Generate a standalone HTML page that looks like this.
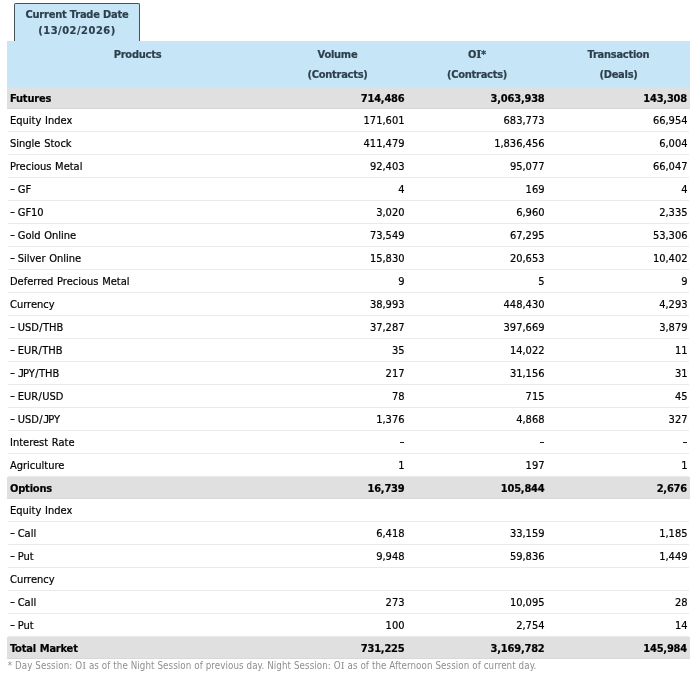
<!DOCTYPE html>
<html><head><meta charset="utf-8"><title>Trade Summary</title>
<style>
html,body{margin:0;padding:0;background:#fff;}
body{width:697px;height:685px;overflow:hidden;position:relative;font-family:"DejaVu Sans Condensed","DejaVu Sans","Liberation Sans",sans-serif;font-size:11px;color:#000;}
.tab{position:absolute;left:14px;top:3px;width:124px;border:1px solid #44525a;border-bottom:none;border-radius:2px 2px 0 0;background:#c6e6f8;color:#2e3f4c;font-weight:bold;text-align:center;line-height:16px;padding-top:3px;height:34px;letter-spacing:-0.2px;z-index:2;}
.tab span{letter-spacing:0.5px;}
.tab{-webkit-text-stroke:0.2px #2e3f4c;}
.tbl{position:absolute;left:7px;top:41px;width:683px;}
.hd{display:flex;height:46px;background:#c6e6f8;color:#2e3f4c;font-weight:bold;text-align:center;line-height:20px;letter-spacing:-0.25px;}
.hd>div{padding-top:4px;-webkit-text-stroke:0.2px #2e3f4c;}
.r{display:flex;height:22px;line-height:22px;border-bottom:1px solid #eaeaea;margin:0 1px 0 1px;}
.r>div{position:relative;top:1px;word-spacing:0.6px;-webkit-text-stroke:0.2px #000;}
.r.g{height:21px;background:#e0e0e0;font-weight:bold;border-bottom:1px solid #d8d8d8;margin:0;letter-spacing:-0.2px;}
.c0{width:261px;box-sizing:border-box;padding-left:3px;}
.c1{width:139px;box-sizing:border-box;text-align:right;padding-right:2.5px;}
.c2{width:140px;box-sizing:border-box;text-align:right;padding-right:2.5px;}
.c3{width:143px;box-sizing:border-box;text-align:right;padding-right:3px;}
.hd .c0,.hd .c1,.hd .c2,.hd .c3{text-align:center;padding-left:0;padding-right:0;}
.r:not(.g) .c0{width:260px;padding-left:2px;}
.r:not(.g) .c3{width:142px;padding-right:1.5px;}
.sj{font-family:"DejaVu Sans Mono",monospace;letter-spacing:-1.3px;}
.sl{margin:0 0.4px;}
.si{font-family:"DejaVu Serif",serif;}
.note{position:absolute;left:7.7px;top:660px;font-size:9.7px;color:#8e8e8e;white-space:nowrap;letter-spacing:0.094px;}

.wrap{position:absolute;left:0;top:0;width:697px;height:685px;will-change:transform;}
.d{display:inline-block;position:relative;top:-1px;transform:scaleX(1.4);transform-origin:0 0;margin-right:0.4px;}
.dn{transform-origin:100% 0;margin-right:0;margin-left:1.2px;}

</style></head><body>
<div class="wrap">
<div class="tab">Current Trade Date<br><span>(13/02/2026)</span></div>
<div class="tbl">
<div class="hd"><div class="c0">Products</div><div class="c1">Volume<br>(Contracts)</div><div class="c2">O<span class="si">I</span>*<br>(Contracts)</div><div class="c3">Transaction<br>(Deals)</div></div>
<div class="r g"><div class="c0">Futures</div><div class="c1">714,486</div><div class="c2">3,063,938</div><div class="c3">143,308</div></div>
<div class="r"><div class="c0">Equity Index</div><div class="c1">171,601</div><div class="c2">683,773</div><div class="c3">66,954</div></div>
<div class="r"><div class="c0">Single Stock</div><div class="c1">411,479</div><div class="c2">1,836,456</div><div class="c3">6,004</div></div>
<div class="r"><div class="c0">Precious Metal</div><div class="c1">92,403</div><div class="c2">95,077</div><div class="c3">66,047</div></div>
<div class="r"><div class="c0"><span class="d">-</span> GF</div><div class="c1">4</div><div class="c2">169</div><div class="c3">4</div></div>
<div class="r"><div class="c0"><span class="d">-</span> GF10</div><div class="c1">3,020</div><div class="c2">6,960</div><div class="c3">2,335</div></div>
<div class="r"><div class="c0"><span class="d">-</span> Gold Online</div><div class="c1">73,549</div><div class="c2">67,295</div><div class="c3">53,306</div></div>
<div class="r"><div class="c0"><span class="d">-</span> Silver Online</div><div class="c1">15,830</div><div class="c2">20,653</div><div class="c3">10,402</div></div>
<div class="r"><div class="c0">Deferred Precious Metal</div><div class="c1">9</div><div class="c2">5</div><div class="c3">9</div></div>
<div class="r"><div class="c0">Currency</div><div class="c1">38,993</div><div class="c2">448,430</div><div class="c3">4,293</div></div>
<div class="r"><div class="c0"><span class="d">-</span> USD<span class="sl">/</span>THB</div><div class="c1">37,287</div><div class="c2">397,669</div><div class="c3">3,879</div></div>
<div class="r"><div class="c0"><span class="d">-</span> EUR<span class="sl">/</span>THB</div><div class="c1">35</div><div class="c2">14,022</div><div class="c3">11</div></div>
<div class="r"><div class="c0"><span class="d">-</span> <span class="sj">J</span>PY<span class="sl">/</span>THB</div><div class="c1">217</div><div class="c2">31,156</div><div class="c3">31</div></div>
<div class="r"><div class="c0"><span class="d">-</span> EUR<span class="sl">/</span>USD</div><div class="c1">78</div><div class="c2">715</div><div class="c3">45</div></div>
<div class="r"><div class="c0"><span class="d">-</span> USD<span class="sl">/</span><span class="sj">J</span>PY</div><div class="c1">1,376</div><div class="c2">4,868</div><div class="c3">327</div></div>
<div class="r"><div class="c0">Interest Rate</div><div class="c1"><span class="d dn">-</span></div><div class="c2"><span class="d dn">-</span></div><div class="c3"><span class="d dn">-</span></div></div>
<div class="r"><div class="c0">Agriculture</div><div class="c1">1</div><div class="c2">197</div><div class="c3">1</div></div>
<div class="r g"><div class="c0">Options</div><div class="c1">16,739</div><div class="c2">105,844</div><div class="c3">2,676</div></div>
<div class="r"><div class="c0">Equity Index</div><div class="c1"></div><div class="c2"></div><div class="c3"></div></div>
<div class="r"><div class="c0"><span class="d">-</span> Call</div><div class="c1">6,418</div><div class="c2">33,159</div><div class="c3">1,185</div></div>
<div class="r"><div class="c0"><span class="d">-</span> Put</div><div class="c1">9,948</div><div class="c2">59,836</div><div class="c3">1,449</div></div>
<div class="r"><div class="c0">Currency</div><div class="c1"></div><div class="c2"></div><div class="c3"></div></div>
<div class="r"><div class="c0"><span class="d">-</span> Call</div><div class="c1">273</div><div class="c2">10,095</div><div class="c3">28</div></div>
<div class="r"><div class="c0"><span class="d">-</span> Put</div><div class="c1">100</div><div class="c2">2,754</div><div class="c3">14</div></div>
<div class="r g"><div class="c0">Total Market</div><div class="c1">731,225</div><div class="c2">3,169,782</div><div class="c3">145,984</div></div>
</div>
<div class="note">* Day Session: O<span class="si">I</span> as of the Night Session of previous day. Night Session: O<span class="si">I</span> as of the Afternoon Session of current day.</div>
</div>
</body></html>
